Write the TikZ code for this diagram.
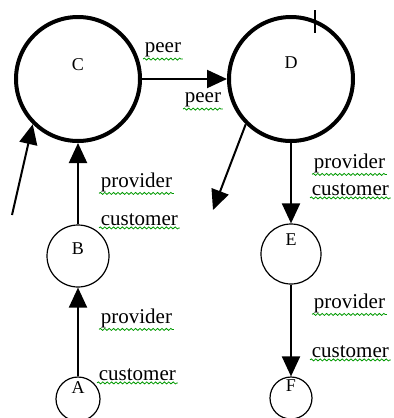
\documentclass[tikz,border=0pt]{standalone}
\usepackage{fontspec}
\setmainfont{Liberation Serif}
\usetikzlibrary{arrows.meta,decorations.pathmorphing}
\tikzset{
  squiggle/.style={draw=green!60!black, line width=0.4pt, decorate, decoration={snake, amplitude=0.5pt, segment length=2.2pt}},
  bigas/.style={draw, circle, line width=2pt, minimum size=62pt, inner sep=0pt, font=\fontsize{9}{10}\selectfont, text height=6pt},
  smallas/.style={draw, circle, line width=0.6pt, inner sep=0pt, font=\fontsize{9}{10}\selectfont, text height=6pt},
  rel/.style={line width=1pt, -{Triangle[length=10pt,width=9pt]}},
  lbl/.style={anchor=west, inner sep=0.75pt, font=\fontsize{10.5}{12}\selectfont,
    append after command={(\tikzlastnode.south west) edge[squiggle] (\tikzlastnode.south east)}}
}
\begin{document}
\begin{tikzpicture}[x=0.5pt,y=0.5pt,yscale=-1,xscale=1]
  \clip (0,0) rectangle (393,418);

  % ASes
  \node[bigas, text depth=15pt] (C) at (78,79) {C};
  \node[bigas, text depth=17pt] (D) at (291,79) {D};
  \node[smallas, minimum size=31pt, text depth=8pt] (B) at (78,256) {B};
  \node[smallas, minimum size=22pt, text depth=12pt] (A) at (78,399) {A};
  \node[smallas, minimum size=30pt, text depth=15pt] (E) at (291,254) {E};
  \node[smallas, minimum size=21pt, text depth=13pt] (F) at (291,398) {F};

  % free ends
  \coordinate (inC) at (12,215);
  \coordinate (outD) at (213,210);

  % links
  \draw[rel] (C) -- (D);
  \draw[rel] (B) -- (C);
  \draw[rel] (A) -- (B);
  \draw[rel] (D) -- (E);
  \draw[rel] (E) -- (F);
  \draw[rel] (inC) -- (C.south west);
  \draw[rel] (D.south west) -- (outD);
  \draw[line width=1.2pt] (315,10) -- (315,33);

  % relation labels
  \node[lbl] (peerC) at (143,50) {peer};
  \node[lbl] (peerD) at (183,100) {peer};
  \node[lbl] (provC) at (99,182) {provider};
  \node[lbl] (custB) at (99,220) {customer};
  \node[lbl] (provB) at (99,318) {provider};
  \node[lbl] (custA) at (97,375) {customer};
  \node[lbl] (provD) at (312,163) {provider};
  \node[lbl] (custE) at (310,190) {customer};
  \node[lbl] (provE) at (312,303) {provider};
  \node[lbl] (custF) at (310,352) {customer};
\end{tikzpicture}
\end{document}
